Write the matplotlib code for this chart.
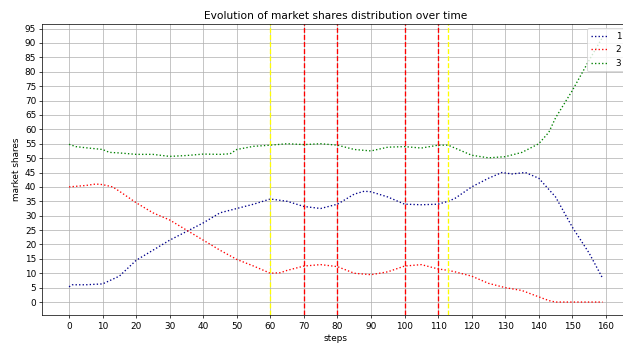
import matplotlib
matplotlib.use("Agg")
import matplotlib.pyplot as plt
import numpy as np

# market share of each firm, sampled at a handful of steps
steps_1 = [0, 1, 5, 10, 15, 20, 25, 30, 35, 40, 45, 50, 55, 60, 65, 70, 75, 80, 85, 88, 90, 95,
           100, 105, 110, 113, 115, 120, 125, 129, 132, 136, 140, 145, 150, 155, 159]
share_1 = [5.3, 6, 6, 6.3, 9, 14.5, 18, 21.5, 24.5, 27.5, 31, 32.5, 34, 35.8, 35, 33.2, 32.5, 34, 37.5, 38.5, 38.3, 36.5,
           34, 33.8, 34, 35, 36, 40, 43, 45, 44.5, 45, 43, 36.5, 26, 17, 8.3]

steps_2 = [0, 5, 8, 10, 13, 15, 20, 25, 30, 35, 40, 45, 50, 55, 60, 63, 65, 70, 75, 80, 85, 90, 95,
           100, 105, 110, 113, 115, 120, 125, 130, 135, 140, 143, 145, 150, 159]
share_2 = [40, 40.5, 41, 40.8, 40, 38.5, 34.5, 31, 28.5, 25, 21.5, 18, 14.8, 12.5, 10, 10.2, 11, 12.5, 13, 12.3, 10, 9.5, 10.5,
           12.5, 13, 11.5, 11, 10.5, 9, 6.5, 5, 4, 1.8, 0.5, 0, 0, 0]

steps_3 = [0, 2, 5, 10, 12, 15, 20, 25, 30, 35, 40, 45, 48, 50, 55, 60, 65, 70, 75, 80, 85, 90, 95,
           100, 105, 110, 113, 115, 120, 125, 130, 135, 140, 143, 145, 150, 155, 159]
share_3 = [54.8, 54, 53.6, 53, 52, 51.8, 51.3, 51.3, 50.6, 50.9, 51.4, 51.3, 51.5, 53, 54.1, 54.5, 55, 54.7, 55, 54.5, 53, 52.5, 53.8,
           54, 53.5, 54.5, 54.5, 53.5, 51, 50.1, 50.5, 52, 55, 59, 64, 73.5, 84, 92]

# events along the simulation
yellow_steps = [60, 113]
red_steps = [70, 80, 100, 110]

fig = plt.figure(figsize=(623 / 64, 347 / 64), dpi=64)
ax = fig.add_axes([0.068, 0.0914, 0.942, 0.8395])

ax.plot(steps_1, share_1, ":", color="darkblue", label="1")
ax.plot(steps_2, share_2, ":", color="red", label="2")
ax.plot(steps_3, share_3, ":", color="green", label="3")

for s in yellow_steps:
    ax.axvline(s, color="yellow", linestyle="--")
for s in red_steps:
    ax.axvline(s, color="red", linestyle="--")

ax.set_xlim(-7.95, 166.95)
ax.set_ylim(-4.6, 96.6)
ax.set_xticks(np.arange(0, 161, 10))
ax.set_yticks(np.arange(0, 96, 5))
ax.grid(True)
ax.set_title("Evolution of market shares distribution over time")
ax.set_xlabel("steps")
ax.set_ylabel("market shares")
ax.legend(loc="upper right")

fig.savefig("out.png", dpi=64)
